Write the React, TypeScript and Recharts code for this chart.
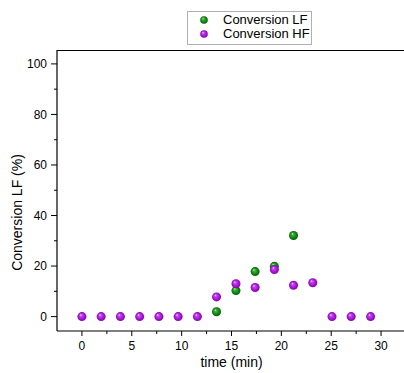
import React from 'react';
import { ScatterChart, Scatter, XAxis, YAxis, Legend, Label } from 'recharts';

const timeLF = [13.5, 15.45, 17.37, 19.3, 21.22];
const convLF = [1.9, 10.3, 17.8, 19.9, 32.1];
const timeHF = [0, 1.93, 3.86, 5.79, 7.72, 9.65, 11.58, 13.5, 15.45, 17.37, 19.3, 21.22, 23.15, 25.08, 27.0, 28.95];
const convHF = [0, 0, 0, 0, 0, 0, 0, 7.8, 13.0, 11.5, 18.6, 12.4, 13.4, 0, 0, 0];
const xTicks = [0, 2.5, 5, 7.5, 10, 12.5, 15, 17.5, 20, 22.5, 25, 27.5, 30];
const yTicks = [0, 10, 20, 30, 40, 50, 60, 70, 80, 90, 100];
const xDomain = [-2.5, 32.5];
const yDomain = [-5.7, 105.5];
const seriesOrder = ['Conversion LF', 'Conversion HF'];

const dataLF = timeLF.map((t, i) => ({ t, c: convLF[i] }));
const dataHF = timeHF.map((t, i) => ({ t, c: convHF[i] }));

const FONT = '"Liberation Sans", Arial, sans-serif';

const XTick = (props: any) => {
  const { x, y, payload } = props;
  const v = payload.value;
  const major = v % 5 === 0;
  return (
    <g>
      <line x1={x} x2={x} y1={y} y2={y + (major ? 5 : 3)} stroke="#000" strokeWidth={1} />
      {major && (
        <text x={x} y={y + 10.5} dy="0.71em" textAnchor="middle" fontSize={12} fontFamily={FONT} fill="#000">
          {v}
        </text>
      )}
    </g>
  );
};

const YTick = (props: any) => {
  const { x, y, payload } = props;
  const v = payload.value;
  const major = v % 20 === 0;
  return (
    <g>
      <line x1={x - (major ? 6 : 3)} x2={x} y1={y} y2={y} stroke="#000" strokeWidth={1} />
      {major && (
        <text x={x - 10} y={y} dy="0.35em" textAnchor="end" fontSize={12} fontFamily={FONT} fill="#000">
          {v}
        </text>
      )}
    </g>
  );
};

const makeShape = (grad: string) => (props: any) => {
  const { cx, cy } = props;
  if (cx == null || cy == null) return <g />;
  return <circle cx={cx} cy={cy} r={4.5} fill={`url(#${grad})`} />;
};

const gradFor: Record<string, string> = { 'Conversion LF': 'gGreen', 'Conversion HF': 'gPurple' };

const LegendBox = (props: any) => {
  const payload = [...(props.payload || [])].sort(
    (a: any, b: any) => seriesOrder.indexOf(a.value) - seriesOrder.indexOf(b.value)
  );
  return (
    <div
      style={{
        position: 'relative',
        width: 125,
        height: 34,
        boxSizing: 'border-box',
        border: '1px solid #b0b0b0',
        background: '#fff',
        fontFamily: FONT,
        fontSize: 13,
        color: '#000',
      }}
    >
      {payload.map((p: any, i: number) => (
        <div key={i} style={{ position: 'absolute', left: 0, top: 1 + i * 14.3, height: 14, width: '100%' }}>
          <svg width={10} height={10} style={{ position: 'absolute', left: 11, top: 2 }}>
            <circle cx={5} cy={5} r={3.8} fill={`url(#${gradFor[p.value]})`} />
          </svg>
          <span style={{ position: 'absolute', left: 35, top: -1, whiteSpace: 'nowrap', lineHeight: '15px' }}>{p.value}</span>
        </div>
      ))}
    </div>
  );
};

export default function App() {
  return (
    <div style={{ position: 'absolute', left: 0, top: 0, width: 404, height: 373, overflow: 'hidden', background: '#fff' }}>
      <svg width={0} height={0} style={{ position: 'absolute' }}>
        <defs>
          <radialGradient id="gGreen" cx="0.5" cy="0.5" r="0.5" fx="0.35" fy="0.3">
            <stop offset="0%" stopColor="#e8ffe8" />
            <stop offset="25%" stopColor="#3cb03c" />
            <stop offset="70%" stopColor="#10850f" />
            <stop offset="100%" stopColor="#065a06" />
          </radialGradient>
          <radialGradient id="gPurple" cx="0.5" cy="0.5" r="0.5" fx="0.35" fy="0.3">
            <stop offset="0%" stopColor="#fbe6ff" />
            <stop offset="25%" stopColor="#c548f0" />
            <stop offset="70%" stopColor="#a612d6" />
            <stop offset="100%" stopColor="#7a0a9e" />
          </radialGradient>
        </defs>
      </svg>
      <ScatterChart width={430} height={373} margin={{ top: 50, right: 24, bottom: 0, left: 0 }}>
        <XAxis
          dataKey="t"
          type="number"
          domain={xDomain}
          ticks={xTicks}
          interval={0}
          tickSize={0}
          tickMargin={0}
          tickLine={false}
          tick={<XTick />}
          height={42}
          stroke="#000"
          axisLine={{ stroke: '#000', strokeWidth: 1.2 }}
        >
          <Label value="time (min)" position="insideBottom" offset={6} fontSize={14} fontFamily={FONT} fill="#000" />
        </XAxis>
        <YAxis
          dataKey="c"
          type="number"
          domain={yDomain}
          ticks={yTicks}
          interval={0}
          tickSize={0}
          tickMargin={0}
          tickLine={false}
          tick={<YTick />}
          width={57}
          stroke="#000"
          axisLine={{ stroke: '#000', strokeWidth: 1.2 }}
        >
          <Label
            content={() => (
              <text transform="translate(22,212.5) rotate(-90)" textAnchor="middle" fontSize={14} fontFamily={FONT} fill="#000">
                Conversion LF (%)
              </text>
            )}
          />
        </YAxis>
        <Legend
          layout="horizontal"
          verticalAlign="middle"
          align="center"
          content={<LegendBox />}
          wrapperStyle={{ position: 'absolute', left: 187, top: 11, width: 125, height: 34 }}
        />
        <Scatter name="Conversion LF" data={dataLF} fill="#10850f" shape={makeShape('gGreen')} isAnimationActive={false} />
        <Scatter name="Conversion HF" data={dataHF} fill="#a612d6" shape={makeShape('gPurple')} isAnimationActive={false} />
      </ScatterChart>
      <div style={{ position: 'absolute', left: 56.5, top: 49.5, width: 360, height: 1.5, background: '#000', zIndex: 10 }} />
    </div>
  );
}
